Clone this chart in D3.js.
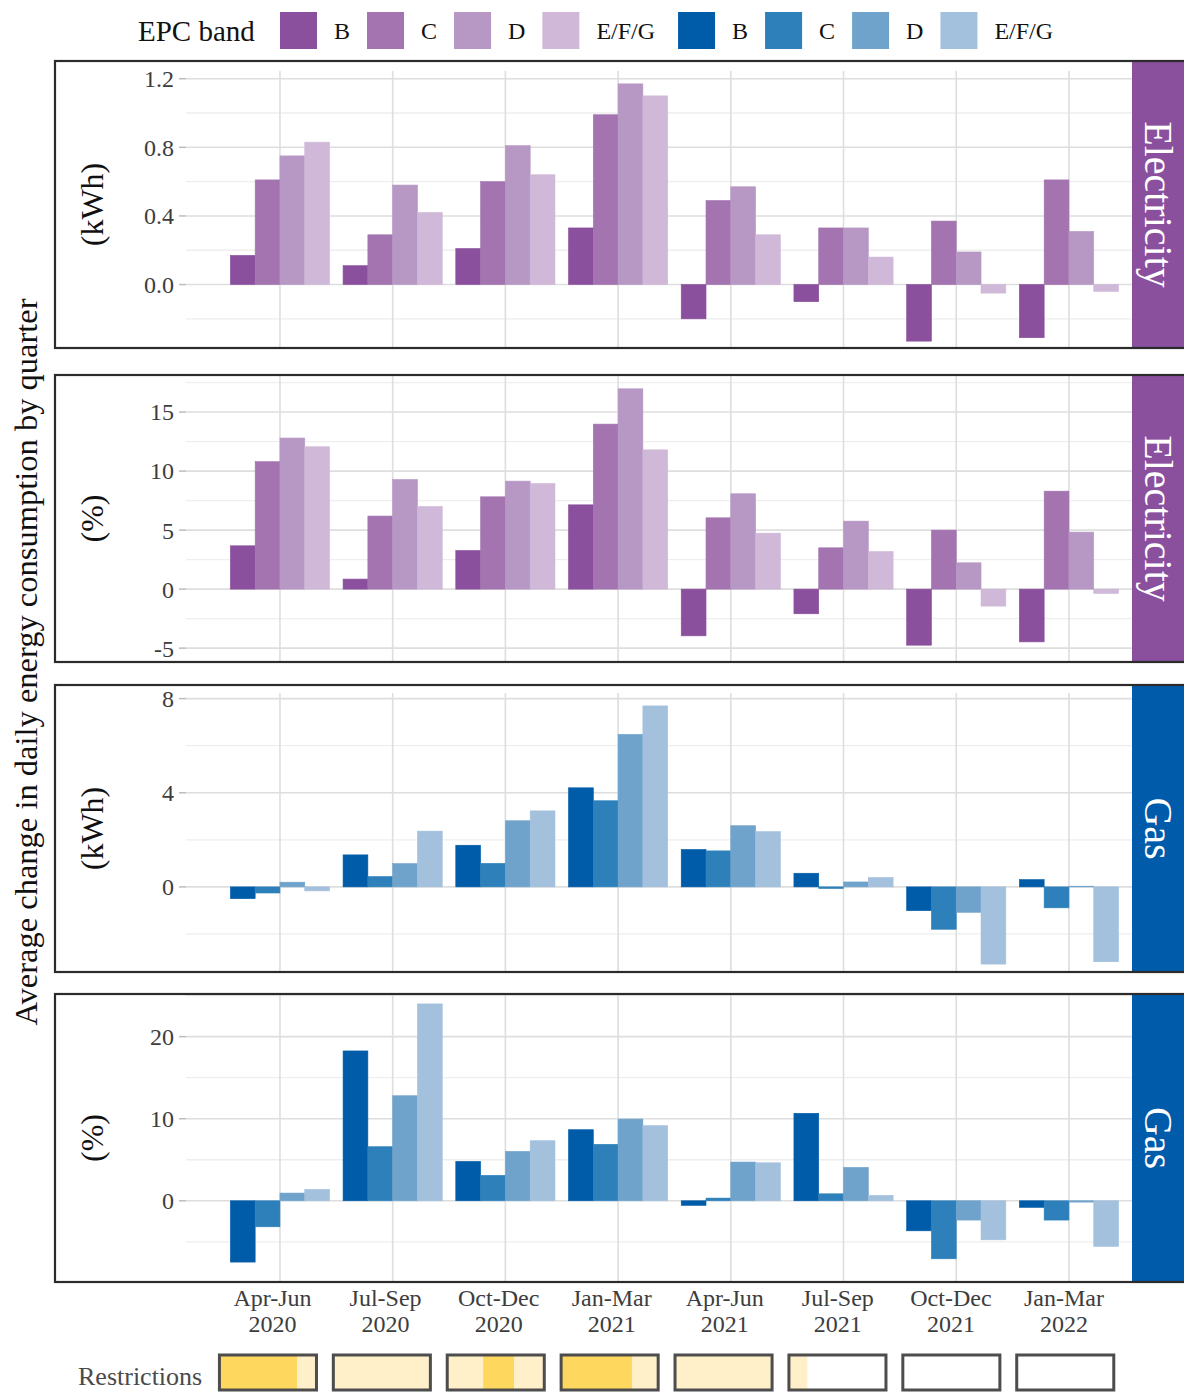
<!DOCTYPE html>
<html>
<head>
<meta charset="utf-8">
<script src="https://cdn.jsdelivr.net/npm/d3@7"></script>
<style>
  body { margin: 0; background: #fff; }
  svg { display: block; font-family: 'Liberation Serif', 'Times New Roman', serif; }
</style>
</head>
<body>
<div id="chart"></div>
<script>
'use strict';

// quarters on the x axis
const quarters = ['Apr-Jun 2020', 'Jul-Sep 2020', 'Oct-Dec 2020', 'Jan-Mar 2021',
  'Apr-Jun 2021', 'Jul-Sep 2021', 'Oct-Dec 2021', 'Jan-Mar 2022'];
const bands = ['B', 'C', 'D', 'E/F/G'];

// one row per EPC band (B, C, D, E/F/G), one value per quarter
const elecKwh = [
  [0.17, 0.11, 0.21, 0.33, -0.20, -0.10, -0.33, -0.31],
  [0.61, 0.29, 0.60, 0.99, 0.49, 0.33, 0.37, 0.61],
  [0.75, 0.58, 0.81, 1.17, 0.57, 0.33, 0.19, 0.31],
  [0.83, 0.42, 0.64, 1.10, 0.29, 0.16, -0.05, -0.04],
];
const elecPct = [
  [3.67, 0.85, 3.27, 7.14, -3.96, -2.09, -4.75, -4.47],
  [10.8, 6.19, 7.82, 13.98, 6.04, 3.5, 5.0, 8.3],
  [12.8, 9.29, 9.15, 16.97, 8.08, 5.76, 2.23, 4.83],
  [12.06, 7.0, 8.95, 11.8, 4.74, 3.19, -1.44, -0.37],
];
const gasKwh = [
  [-0.50, 1.36, 1.77, 4.21, 1.59, 0.58, -1.01, 0.31],
  [-0.26, 0.44, 1.00, 3.66, 1.53, -0.07, -1.80, -0.89],
  [0.20, 0.99, 2.81, 6.48, 2.60, 0.21, -1.08, 0.03],
  [-0.17, 2.37, 3.23, 7.69, 2.35, 0.40, -3.28, -3.18],
];
const gasPct = [
  [-7.47, 18.26, 4.80, 8.66, -0.56, 10.66, -3.66, -0.80],
  [-3.17, 6.59, 3.10, 6.88, 0.33, 0.85, -7.07, -2.35],
  [0.94, 12.8, 6.02, 9.96, 4.72, 4.07, -2.35, -0.16],
  [1.39, 23.99, 7.32, 9.15, 4.63, 0.66, -4.76, -5.56],
];

// restriction periods inside each quarter: [from, to, level] as share of the quarter
const restrictions = [
  [[0, 0.8, 'high'], [0.8, 1, 'low']],
  [[0, 1, 'low']],
  [[0, 0.37, 'low'], [0.37, 0.69, 'high'], [0.69, 1, 'low']],
  [[0, 0.73, 'high'], [0.73, 1, 'low']],
  [[0, 1, 'low']],
  [[0, 0.19, 'low']],
  [],
  [],
];

const elecColors = ['#8a4f9d', '#a374b0', '#b798c5', '#cfb8d8'];
const gasColors = ['#005ca9', '#2d80ba', '#6fa3cc', '#a3c0dd'];
const restrictColors = { high: '#fed85e', low: '#fff0c9' };

const W = 1184;
const H = 1392;
const plotL = 186;
const plotR = 1132;
const stripW = 54;

const panels = [
  { values: elecKwh, colors: elecColors, unit: '(kWh)', strip: 'Electricity', step: 0.4,
    fmt: d3.format('.1f'), box: [61, 348], plot: [71, 354] },
  { values: elecPct, colors: elecColors, unit: '(%)', strip: 'Electricity', step: 5,
    fmt: d3.format('d'), box: [375, 662], plot: [376, 658] },
  { values: gasKwh, colors: gasColors, unit: '(kWh)', strip: 'Gas', step: 4,
    fmt: d3.format('d'), box: [685, 972], plot: [693, 977] },
  { values: gasPct, colors: gasColors, unit: '(%)', strip: 'Gas', step: 10,
    fmt: d3.format('d'), box: [994, 1282], plot: [991, 1275] },
];

const svg = d3.select('#chart').append('svg')
  .attr('width', W)
  .attr('height', H)
  .attr('viewBox', '0 0 ' + W + ' ' + H);

const x = d3.scaleBand()
  .domain(quarters)
  .range([223.6, 1125.3])
  .paddingInner(0.12)
  .paddingOuter(0.06);

const xInner = d3.scaleBand()
  .domain(d3.range(bands.length))
  .range([0, x.bandwidth()]);

// ggplot style 5% expansion of the data range
const expanded = (vals) => {
  const ext = d3.extent(vals.flat().concat([0]));
  const pad = (ext[1] - ext[0]) * 0.05;
  return [ext[0] - pad, ext[1] + pad];
};

const drawPanel = (p, idx) => {
  const [bTop, bBot] = p.box;
  const y = d3.scaleLinear().domain(expanded(p.values)).range([p.plot[1], p.plot[0]]);
  const [lo, hi] = y.domain();
  const inBox = (v) => y(v) >= bTop + 1 && y(v) <= bBot - 1;

  const major = d3.range(Math.ceil(lo / p.step) * p.step, hi, p.step)
    .map((v) => +v.toFixed(6)).filter(inBox);
  const minor = d3.range(Math.ceil((lo - p.step / 2) / p.step) * p.step + p.step / 2, hi, p.step)
    .map((v) => +v.toFixed(6)).filter(inBox);

  const clipId = 'clip' + idx;
  svg.append('clipPath').attr('id', clipId)
    .append('rect')
    .attr('x', 55).attr('y', bTop)
    .attr('width', W).attr('height', bBot - bTop);

  const g = svg.append('g').attr('clip-path', 'url(#' + clipId + ')');

  g.selectAll('.minor').data(minor).enter().append('line')
    .attr('x1', plotL).attr('x2', plotR)
    .attr('y1', (d) => y(d)).attr('y2', (d) => y(d))
    .attr('stroke', '#eeeeee').attr('stroke-width', 1.3);

  g.selectAll('.major').data(major).enter().append('line')
    .attr('x1', plotL).attr('x2', plotR)
    .attr('y1', (d) => y(d)).attr('y2', (d) => y(d))
    .attr('stroke', '#dedede').attr('stroke-width', 1.6);

  g.selectAll('.vgrid').data(quarters).enter().append('line')
    .attr('x1', (d) => x(d) + x.bandwidth() / 2)
    .attr('x2', (d) => x(d) + x.bandwidth() / 2)
    .attr('y1', Math.max(p.plot[0], bTop)).attr('y2', bBot)
    .attr('stroke', '#dedede').attr('stroke-width', 1.6);

  // bars
  p.values.forEach((series, bi) => {
    g.selectAll('.bar' + bi).data(series).enter().append('rect')
      .attr('x', (d, i) => x(quarters[i]) + xInner(bi))
      .attr('width', xInner.bandwidth())
      .attr('y', (d) => y(Math.max(0, d)))
      .attr('height', (d) => Math.abs(y(d) - y(0)))
      .attr('fill', p.colors[bi])
      .attr('stroke', p.colors[bi])
      .attr('stroke-width', 0.6);
  });

  // y axis ticks + labels
  svg.append('g').selectAll('line').data(major).enter().append('line')
    .attr('x1', plotL - 7).attr('x2', plotL)
    .attr('y1', (d) => y(d)).attr('y2', (d) => y(d))
    .attr('stroke', '#bdbdbd').attr('stroke-width', 1.5);

  svg.append('g').selectAll('text').data(major).enter().append('text')
    .attr('x', plotL - 12)
    .attr('y', (d) => y(d))
    .attr('dy', '0.35em')
    .attr('text-anchor', 'end')
    .attr('font-size', 24)
    .attr('fill', '#3d3d3d')
    .text((d) => p.fmt(d).replace('\u2212', '-'));

  const midY = (bTop + bBot) / 2;
  svg.append('text')
    .attr('transform', 'translate(92,' + midY + ') rotate(-90)')
    .attr('text-anchor', 'middle')
    .attr('dy', '0.35em')
    .attr('font-size', 32)
    .attr('fill', '#111')
    .text(p.unit);

  // strip
  svg.append('rect')
    .attr('x', plotR).attr('y', bTop)
    .attr('width', stripW).attr('height', bBot - bTop)
    .attr('fill', p.colors[0] === elecColors[0] ? '#8a4f9d' : '#005caa');

  svg.append('text')
    .attr('transform', 'translate(' + (plotR + stripW / 2 - 1) + ',' + midY + ') rotate(90)')
    .attr('text-anchor', 'middle')
    .attr('dy', '0.33em')
    .attr('font-size', 40)
    .attr('fill', '#fff')
    .text(p.strip);

  // outer frame
  svg.append('rect')
    .attr('x', 55).attr('y', bTop)
    .attr('width', W).attr('height', bBot - bTop)
    .attr('fill', 'none')
    .attr('stroke', '#2b2b2b')
    .attr('stroke-width', 2.2);
};

panels.forEach(drawPanel);

// x axis labels under the last panel
const xLab = d3.scalePoint().domain(quarters).range([272.5, 1064]);
const xl = svg.append('g').selectAll('text').data(quarters).enter().append('text')
  .attr('x', (d) => xLab(d))
  .attr('y', 1306)
  .attr('text-anchor', 'middle')
  .attr('font-size', 24)
  .attr('fill', '#3d3d3d');
xl.append('tspan').attr('x', (d) => xLab(d)).text((d) => d.split(' ')[0]);
xl.append('tspan').attr('x', (d) => xLab(d)).attr('dy', 25.5).text((d) => d.split(' ')[1]);

// left title
svg.append('text')
  .attr('transform', 'translate(26,662) rotate(-90)')
  .attr('text-anchor', 'middle')
  .attr('dy', '0.35em')
  .attr('font-size', 32.5)
  .attr('fill', '#111')
  .text('Average change in daily energy consumption by quarter');

// legend
const legend = svg.append('g');
legend.append('text')
  .attr('x', 138).attr('y', 31).attr('dy', '0.35em')
  .attr('font-size', 29).attr('fill', '#111')
  .text('EPC band');

let lx = 280;
[elecColors, gasColors].forEach((cols, gi) => {
  bands.forEach((b, bi) => {
    legend.append('rect')
      .attr('x', lx).attr('y', 12)
      .attr('width', 37).attr('height', 37)
      .attr('fill', cols[bi]);
    const t = legend.append('text')
      .attr('x', lx + 37 + 17).attr('y', 31).attr('dy', '0.35em')
      .attr('font-size', 24).attr('fill', '#111')
      .text(b);
    lx = lx + 37 + 17 + t.node().getComputedTextLength() + (bi === bands.length - 1 ? 23 : 17);
  });
});

// restrictions row
const xr = d3.scaleBand()
  .domain(quarters)
  .range([211, 1122.2])
  .paddingInner(0.148)
  .paddingOuter(0.074);
const frac = d3.scaleLinear().domain([0, 1]);

svg.append('text')
  .attr('x', 78).attr('y', 1385)
  .attr('font-size', 26).attr('fill', '#4a4a4a')
  .text('Restrictions');

quarters.forEach((q, i) => {
  const gx = svg.append('g');
  frac.range([xr(q), xr(q) + xr.bandwidth()]);
  gx.append('rect')
    .attr('x', xr(q)).attr('y', 1355)
    .attr('width', xr.bandwidth()).attr('height', 35)
    .attr('fill', '#fff');
  gx.selectAll('rect.seg').data(restrictions[i]).enter().append('rect')
    .attr('class', 'seg')
    .attr('x', (d) => frac(d[0]))
    .attr('width', (d) => frac(d[1]) - frac(d[0]))
    .attr('y', 1355).attr('height', 35)
    .attr('fill', (d) => restrictColors[d[2]]);
  gx.append('rect')
    .attr('x', xr(q)).attr('y', 1355)
    .attr('width', xr.bandwidth()).attr('height', 35)
    .attr('fill', 'none')
    .attr('stroke', '#4d4d4d')
    .attr('stroke-width', 3);
});
</script>
</body>
</html>
